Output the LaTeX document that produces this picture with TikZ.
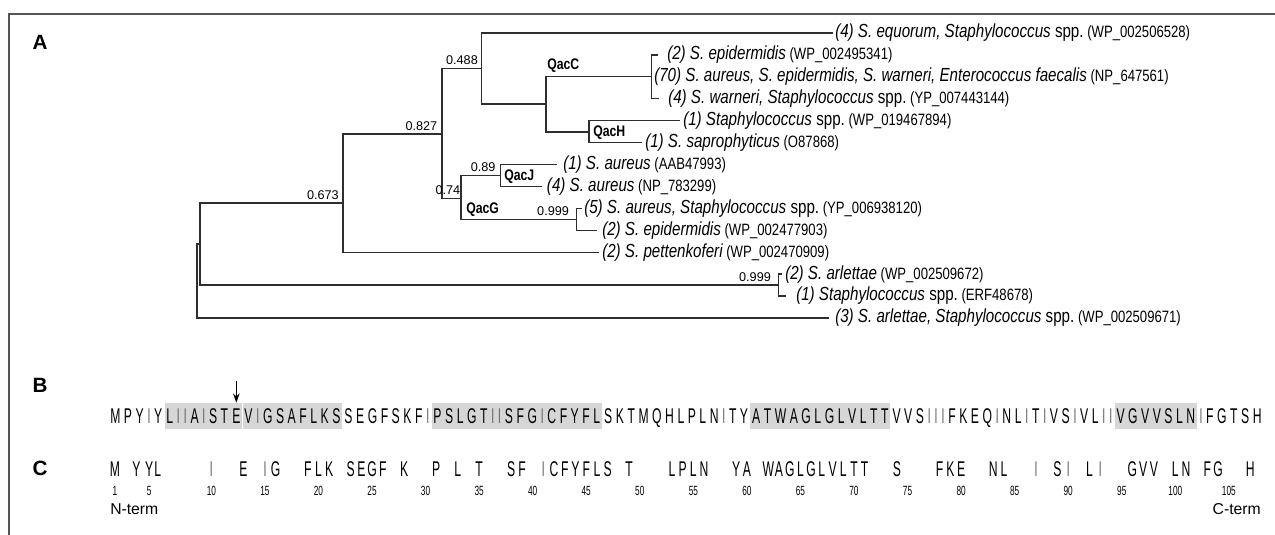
\documentclass[tikz,border=0pt]{standalone}
\usepackage{fontspec}
\setmainfont{Liberation Sans}
\newfontfamily\treefont{Liberation Sans}[FakeStretch=0.8]
\newfontfamily\seqfont{Liberation Sans}[FakeStretch=0.57]
\newfontfamily\numfont{Liberation Sans}[FakeStretch=0.62]
\usetikzlibrary{arrows.meta}
\definecolor{linecol}{HTML}{2E2E2E}
\definecolor{framecol}{HTML}{555555}
\definecolor{boxcol}{HTML}{D6D6D6}
\definecolor{igray}{HTML}{707070}
\newcommand{\spfont}{\treefont\fontsize{14.2}{16}\selectfont}
\newcommand{\acfont}{\treefont\fontsize{12.3}{14}\selectfont}
\newcommand{\sqfnt}{\seqfont\fontsize{16}{19}\selectfont}
\newcommand{\lf}[3]{{\spfont\itshape #1}{\spfont #2}{\acfont\ (#3)}}
\newcommand{\rsd}[1]{\ifx#1I{\color{igray}I}\else#1\fi}
\newlength\sqnat
\newlength\sqhalf
\makeatletter
\def\sqsp#1{\sq@lp#1\@nil}
\def\sq@lp#1{\ifx#1\@nil\else\hspace*{\sqhalf}\rsd{#1}\hspace*{\sqhalf}\expandafter\sq@lp\fi}
\makeatother
\tikzset{
  br/.style={draw=linecol, line width=1.05pt, line cap=rect},
  lab/.style={anchor=west, inner sep=0pt},
  bs/.style={anchor=south east, inner sep=0pt, font=\fontsize{9.5}{11}\selectfont},
  clade/.style={inner sep=0pt, font=\treefont\bfseries\fontsize{11.5}{13}\selectfont},
  panel/.style={anchor=base, inner sep=0pt, font=\bfseries\fontsize{15.5}{18}\selectfont},
  seg/.style={inner sep=0pt, anchor=base west, text height=15pt, text depth=4.5pt, font=\sqfnt},
  segbox/.style={seg, fill=boxcol},
  cres/.style={inner sep=0pt, anchor=base, font=\sqfnt},
  cnum/.style={inner sep=0pt, anchor=base, font=\numfont\fontsize{10}{12}\selectfont},
  term/.style={inner sep=0pt, font=\fontsize{11.8}{13}\selectfont},
}
\begin{document}
\setlength\sqhalf{0pt}
\settowidth\sqnat{\sqfnt\sqsp{MPYIYLIIAISTEVIGSAFLKSSEGFSKFIPSLGTIISFGICFYFLSKTMQHLPLNITYATWAGLGLVLTTVVSIIIFKEQINLITIVSIVLIIVGVVSLNIFGTSH}}
\setlength\sqhalf{\dimexpr(859.5pt-\sqnat)/212\relax}
\begin{tikzpicture}[x=0.75pt,y=-0.75pt]
\useasboundingbox (0,0) rectangle (1275,535);
% frame
\draw[framecol, line width=1.1pt] (1275,14) -- (9,14) -- (9,535);
% panel labels
\node[panel] (pA) at (40,49.5) {A};
\node[panel] (pB) at (40,392) {B};
\node[panel] (pC) at (40,475.5) {C};
% ---------- tree ----------
\coordinate (R) at (197,280);
\coordinate (N673) at (200,244);
\coordinate (NX) at (343,203);
\coordinate (N827) at (442,134);
\coordinate (N488) at (481.6,68.6);
\coordinate (NC) at (546,104);
\coordinate (NT) at (651.7,76.8);
\coordinate (NH) at (589,132);
\coordinate (N74) at (461,198.3);
\coordinate (NJ) at (500.7,175.5);
\coordinate (N999) at (576.7,219.4);
\coordinate (NA) at (778.6,285);
% leaves (line ends)
\coordinate (l1) at (832,33);
\coordinate (l2) at (657,54.9);
\coordinate (l3) at (651.7,76.8);
\coordinate (l4) at (658,98.8);
\coordinate (l5) at (679.6,120.7);
\coordinate (l6) at (641,142.6);
\coordinate (l7) at (556.7,164.5);
\coordinate (l8) at (541.7,186.4);
\coordinate (l9) at (581.7,208.4);
\coordinate (l10) at (596.7,230.3);
\coordinate (l11) at (598,252.2);
\coordinate (l12) at (781.5,274.1);
\coordinate (l13) at (785,296);
\coordinate (l14) at (828,318);
% branches
\draw[br] (R) |- (N673);  \draw[br] (R) |- (l14);
\draw[br] (N673) |- (NX); \draw[br] (N673) |- (NA);
\draw[br] (NX) |- (N827); \draw[br] (NX) |- (l11);
\draw[br] (N827) |- (N488); \draw[br] (N827) |- (N74);
\draw[br] (N488) |- (l1); \draw[br] (N488) |- (NC);
\draw[br] (NC) |- (NT); \draw[br] (NC) |- (NH);
\draw[br] (NT) |- (l2); \draw[br] (NT) |- (l3); \draw[br] (NT) |- (l4);
\draw[br] (NH) |- (l5); \draw[br] (NH) |- (l6);
\draw[br] (N74) |- (NJ); \draw[br] (N74) |- (N999);
\draw[br] (NJ) |- (l7); \draw[br] (NJ) |- (l8);
\draw[br] (N999) |- (l9); \draw[br] (N999) |- (l10);
\draw[br] (NA) |- (l12); \draw[br] (NA) |- (l13);
% leaf labels
\node[lab] (t1) at (835,33) {\lf{(4) S. equorum, Staphylococcus}{\ spp.}{WP\_002506528}};
\node[lab] (t2) at (667,54.9) {\lf{(2) S. epidermidis}{}{WP\_002495341}};
\node[lab] (t3) at (654,76.8) {\lf{(70) S. aureus, S. epidermidis, S. warneri, Enterococcus faecalis}{}{NP\_647561}};
\node[lab] (t4) at (668,98.8) {\lf{(4) S. warneri, Staphylococcus}{\ spp.}{YP\_007443144}};
\node[lab] (t5) at (683,120.7) {\lf{(1) Staphylococcus}{\ spp.}{WP\_019467894}};
\node[lab] (t6) at (645,142.6) {\lf{(1) S. saprophyticus}{}{O87868}};
\node[lab] (t7) at (563,164.5) {\lf{(1) S. aureus}{}{AAB47993}};
\node[lab] (t8) at (546.7,186.4) {\lf{(4) S. aureus}{}{NP\_783299}};
\node[lab] (t9) at (584,208.4) {\lf{(5) S. aureus, Staphylococcus}{\ spp.}{YP\_006938120}};
\node[lab] (t10) at (602,230.3) {\lf{(2) S. epidermidis}{}{WP\_002477903}};
\node[lab] (t11) at (602,252.2) {\lf{(2) S. pettenkoferi}{}{WP\_002470909}};
\node[lab] (t12) at (785,274.1) {\lf{(2) S. arlettae}{}{WP\_002509672}};
\node[lab] (t13) at (796,296) {\lf{(1) Staphylococcus}{\ spp.}{ERF48678}};
\node[lab] (t14) at (835,318) {\lf{(3) S. arlettae, Staphylococcus}{\ spp.}{WP\_002509671}};
% bootstrap values
\node[bs] (b488) at ([shift={(-3.5,-3.5)}]N488) {0.488};
\node[bs] (b827) at ([shift={(-4.5,-3.5)}]N827) {0.827};
\node[bs] (b89) at ([shift={(-5,-3.5)}]NJ) {0.89};
\node[bs] (b74) at ([shift={(-0.5,-3.5)}]N74) {0.74};
\node[bs] (b999a) at ([shift={(-7.5,-3.5)}]N999) {0.999};
\node[bs] (b673) at ([shift={(-4,-3.5)}]NX) {0.673};
\node[bs] (b999b) at ([shift={(-7.5,-3.5)}]NA) {0.999};
% clade names
\node[clade, anchor=south west] (qC) at (547,72.5) {QacC};
\node[clade, anchor=west] (qH) at (593,132.5) {QacH};
\node[clade, anchor=west] (qJ) at (504,177) {QacJ};
\node[clade, anchor=south west] (qG) at (466,217) {QacG};
% ---------- panel B ----------
\coordinate (bstart) at ([xshift=-\sqhalf]110,423);
\node[seg] (s1) at (bstart) {\sqsp{MPYIY}};
\node[segbox] (s2a) at (s1.base east) {\sqsp{LIIAIST}};
\node[segbox] (s2b) at (s2a.base east) {\sqsp{E}};
\node[segbox] (s2c) at (s2b.base east) {\sqsp{VIGSAFLKS}};
\node[seg] (s3) at (s2c.base east) {\sqsp{SEGFSKFI}};
\node[segbox] (s4) at (s3.base east) {\sqsp{PSLGTIISFGICFYFL}};
\node[seg] (s5) at (s4.base east) {\sqsp{SKTMQHLPLNITY}};
\node[segbox] (s6) at (s5.base east) {\sqsp{ATWAGLGLVLTT}};
\node[seg] (s7) at (s6.base east) {\sqsp{VVSIIIFKEQINLITIVSIVLII}};
\node[segbox] (s8) at (s7.base east) {\sqsp{VGVVSLN}};
\node[seg] (s9) at (s8.base east) {\sqsp{IFGTSH}};
\coordinate (arrtop) at ([yshift=16pt]s2b.north);
\draw[black, line width=0.9pt, -{Stealth[length=7pt,width=5pt]}] (arrtop) -- (s2b.north);
% ---------- panel C ----------
\foreach \n/\ch [count=\k] in {1/M,3/Y,4.2/Y,5/L,10/I,13/E,15/I,16/G,19/F,20/L,21/K,23/S,24/E,25/G,26/F,28/K,31/P,33/L,35/T,38/S,39/F,41/I,42/C,43/F,44/Y,45/F,46/L,47/S,49/T,53/L,54/P,55/L,56/N,59/Y,60/A,62/W,63/A,64/G,65/L,66/G,67/L,68/V,69/L,70/T,71/T,74/S,78/F,79/K,80/E,83/N,84/L,87/I,89/S,90/I,92/L,93/I,96/G,97/V,98/V,100/L,101/N,103/F,104/G,107/H}
  \node[cres] (c\k) at ({115+10.71*(\n-1)},476) {\expandafter\rsd\expandafter{\ch}};
\foreach \n/\lb [count=\k] in {1/1,4.2/5,10/10,15/15,20/20,25/25,30/30,35/35,40/40,45/45,50/50,55/55,60/60,65/65,70/70,75/75,80/80,85/85,90/90,95/95,100/100,105/105}
  \node[cnum] (n\k) at ({115+10.71*(\n-1)},495) {\lb};
\node[term, anchor=base west] (nterm) at (110,514) {N-term};
\node[term, anchor=base east] (cterm) at (1261,514) {C-term};
\end{tikzpicture}
\end{document}
